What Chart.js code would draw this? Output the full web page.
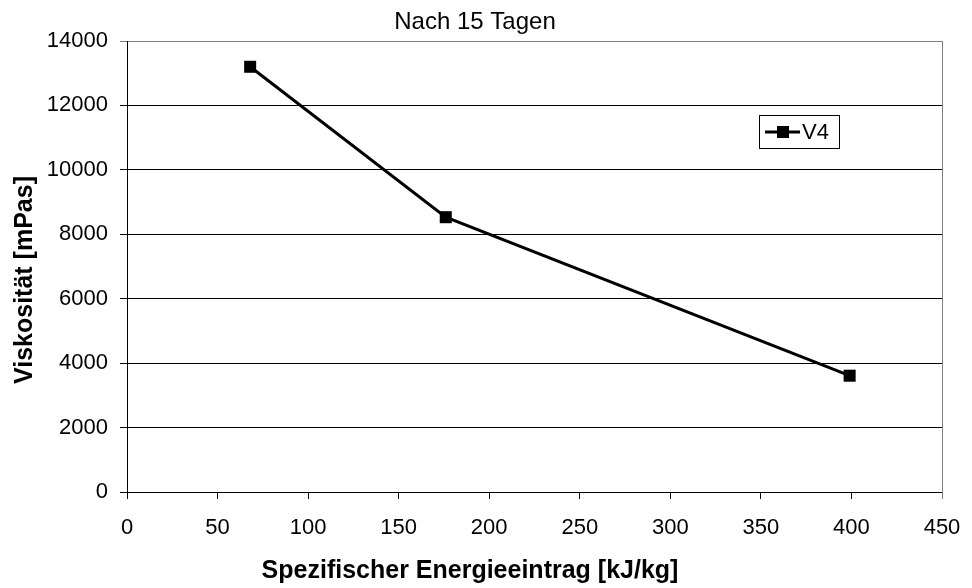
<!DOCTYPE html>
<html>
<head>
<meta charset="utf-8">
<script src="https://cdn.jsdelivr.net/npm/chart.js@4/dist/chart.umd.min.js"></script>
<style>
  html, body { margin: 0; padding: 0; background: #fff; }
  #wrap { width: 972px; height: 588px; }
</style>
</head>
<body>
<div id="wrap"><canvas id="chart"></canvas></div>
<script>
const energy    = [68, 176, 399]          // kJ/kg
const viscosity = [13200, 8530, 3610]     // mPas
const seriesLabel = "V4"
const chartTitle  = "Nach 15 Tagen"
const xTitle      = "Spezifischer Energieeintrag [kJ/kg]"
const yTitle      = "Viskosität [mPas]"

const font      = "'Liberation Sans', Arial, sans-serif"
const black     = "#000"
const frameGray = "#808080"

// titles, right frame edge and the boxed legend are drawn by hand
const extras = {
  id: "extras",
  afterDraw(chart) {
    const { ctx, chartArea: a } = chart
    ctx.save()

    ctx.strokeStyle = frameGray
    ctx.lineWidth = 1
    ctx.beginPath()
    ctx.moveTo(a.right + 0.5, a.top)
    ctx.lineTo(a.right + 0.5, a.bottom + 7)
    ctx.stroke()

    ctx.fillStyle = black
    ctx.textAlign = "center"
    ctx.textBaseline = "middle"
    ctx.font = `24px ${font}`
    ctx.fillText(chartTitle, 475, 22)

    ctx.font = `bold 25px ${font}`
    ctx.fillText(xTitle, 470, 571)

    ctx.translate(25, 280)
    ctx.rotate(-Math.PI / 2)
    ctx.fillText(yTitle, 0, 0)
    ctx.restore()

    // legend
    ctx.save()
    ctx.strokeStyle = black
    ctx.lineWidth = 1
    ctx.fillStyle = "#fff"
    ctx.fillRect(759.5, 115.5, 80, 33)
    ctx.strokeRect(759.5, 115.5, 80, 33)
    ctx.lineWidth = 3
    ctx.beginPath()
    ctx.moveTo(765, 132)
    ctx.lineTo(800, 132)
    ctx.stroke()
    ctx.fillStyle = black
    ctx.fillRect(777, 126, 12, 12)
    ctx.font = `22px ${font}`
    ctx.textBaseline = "middle"
    ctx.textAlign = "left"
    ctx.fillText(chart.data.datasets[0].label, 802, 133)
    ctx.restore()
  }
}

new Chart(document.getElementById("chart"), {
  type: "line",
  data: {
    datasets: [{
      label: seriesLabel,
      data: energy.map((x, i) => ({ x, y: viscosity[i] })),
      borderColor: black,
      borderWidth: 3,
      backgroundColor: black,
      pointStyle: "rect",
      pointRadius: 8.5,
      pointBorderWidth: 0,
      tension: 0
    }]
  },
  options: {
    responsive: true,
    maintainAspectRatio: false,
    animation: false,
    layout: { padding: { top: 41, right: 30, left: 0, bottom: 0 } },
    plugins: {
      legend: { display: false },
      tooltip: { enabled: false }
    },
    scales: {
      x: {
        type: "linear",
        min: 0,
        max: 450,
        afterFit: s => {
          s.height = 96
          s.paddingLeft = 0
          s.paddingRight = 0
        },
        ticks: {
          stepSize: 50, color: black, padding: 16,
          font: { family: font, size: 22 },
          callback: v => String(v)
        },
        grid: { drawOnChartArea: false, drawTicks: true, tickLength: 7, color: black },
        border: { color: black, width: 1 }
      },
      y: {
        min: 0,
        max: 14000,
        afterFit: s => {
          s.width = 127
          s.paddingTop = 0
          s.paddingBottom = 0
        },
        ticks: {
          stepSize: 2000, color: black, padding: 12,
          font: { family: font, size: 22 },
          callback: v => String(v)
        },
        grid: {
          tickLength: 7,
          color: ctx => ctx.tick && ctx.tick.value === 14000 ? frameGray : black
        },
        border: { color: black, width: 1 }
      }
    }
  },
  plugins: [extras]
})
</script>
</body>
</html>
